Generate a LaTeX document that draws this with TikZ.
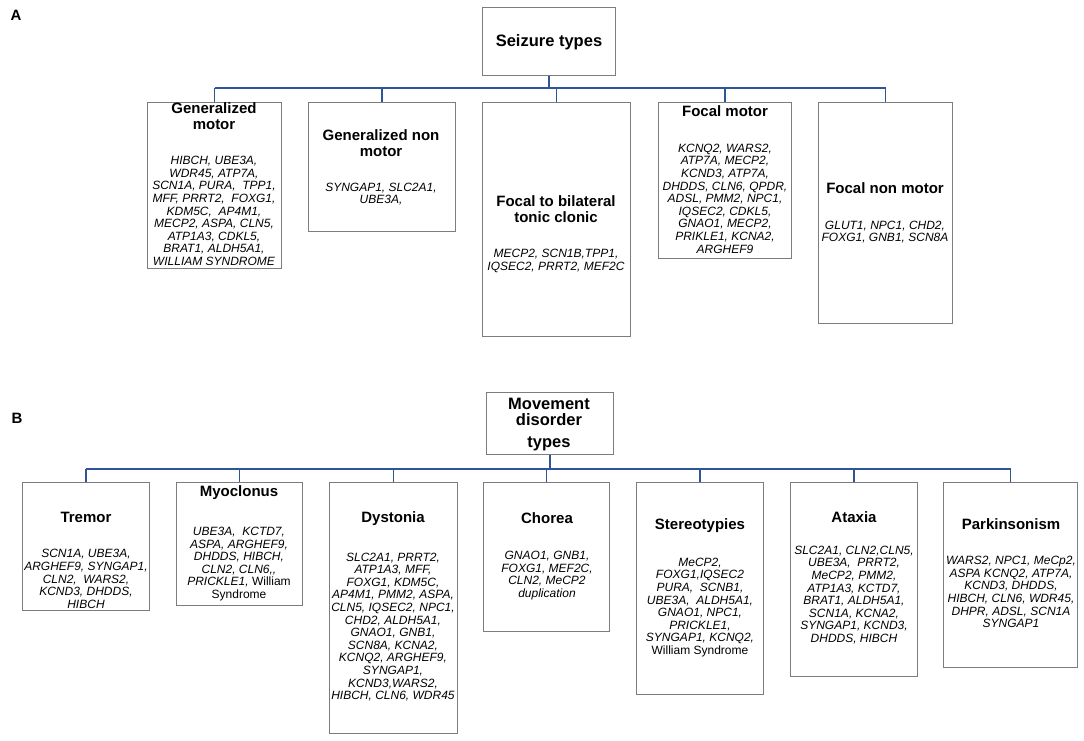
\documentclass[tikz,border=0pt]{standalone}
\usepackage{fontspec}
\setmainfont{Liberation Sans}
\definecolor{connc}{RGB}{47,85,151}
\definecolor{boxc}{RGB}{125,125,125}
\begin{document}
\begin{tikzpicture}[x=1pt,y=-1pt,
  box/.style={draw=boxc, line width=1pt, inner sep=0pt, anchor=north west, fill=white},
  ttl/.style={font=\fontsize{15}{16}\selectfont\bfseries, align=center, inner sep=0pt},
  roottl/.style={font=\fontsize{16.5}{16}\selectfont\bfseries, align=center, inner sep=0pt},
  gene/.style={font=\fontsize{12}{12.6}\selectfont\itshape, align=center, inner sep=0pt},
  conn/.style={draw=connc, line width=1.3pt},
  panel/.style={font=\fontsize{15}{15}\selectfont\bfseries, inner sep=0pt}]
\useasboundingbox (0,0) rectangle (1084,741);
\fill[white] (0,0) rectangle (1084,741);

% ---------- Panel A ----------
\node[panel] (labA) at (16,15) {A};
\node[box, minimum width=133pt, minimum height=68pt] (seiz) at (482,7) {};
\node[roottl] (seizt) at (549,42) {Seizure types};

\node[box, minimum width=134pt, minimum height=166pt] (gm) at (147,102) {};
\node[box, minimum width=147pt, minimum height=129pt] (gnm) at (308,102) {};
\node[box, minimum width=148pt, minimum height=234pt] (fbtc) at (482,102) {};
\node[box, minimum width=133pt, minimum height=156pt] (fm) at (658,102) {};
\node[box, minimum width=134pt, minimum height=221pt] (fnm) at (818,102) {};

\coordinate (busA) at (0,88);
\draw[conn] (seiz.south) -- (seiz.south |- busA);
\draw[conn] (gm.north |- busA) -- (fnm.north |- busA);
\foreach \n in {gm,gnm,fbtc,fm,fnm} {\draw[conn] (\n.north) -- (\n.north |- busA);}

\node[ttl] (gmt) at (214,116) {Generalized\\motor};
\node[gene] (gmg) at (214,211) {HIBCH, UBE3A,\\WDR45, ATP7A,\\SCN1A, PURA,\ \ TPP1,\\MFF, PRRT2,\ \ FOXG1,\\KDM5C,\ \ AP4M1,\\MECP2, ASPA, CLN5,\\ATP1A3, CDKL5,\\BRAT1, ALDH5A1,\\WILLIAM SYNDROME};

\node[ttl] (gnmt) at (381,143) {Generalized non\\motor};
\node[gene] (gnmg) at (381,194) {SYNGAP1, SLC2A1,\\UBE3A,};

\node[ttl] (fbtct) at (556,209) {Focal to bilateral\\tonic clonic};
\node[gene] (fbtcg) at (556,261) {MECP2, SCN1B,TPP1,\\IQSEC2, PRRT2, MEF2C};

\node[ttl] (fmt) at (725,111) {Focal motor};
\node[gene] (fmg) at (725,198.5) {KCNQ2, WARS2,\\ATP7A, MECP2,\\KCND3, ATP7A,\\DHDDS, CLN6, QPDR,\\ADSL, PMM2, NPC1,\\IQSEC2, CDKL5,\\GNAO1, MECP2,\\PRIKLE1, KCNA2,\\ARGHEF9};

\node[ttl] (fnmt) at (885,188) {Focal non motor};
\node[gene] (fnmg) at (885,232) {GLUT1, NPC1, CHD2,\\FOXG1, GNB1, SCN8A};

% ---------- Panel B ----------
\node[panel] (labB) at (17,418) {B};
\node[box, minimum width=127pt, minimum height=62pt] (mov) at (486,392) {};
\node[roottl] (movt) at (549,425) {Movement\\disorder\\[6pt]types};

\node[box, minimum width=127pt, minimum height=128pt] (tre) at (22,482) {};
\node[box, minimum width=126pt, minimum height=123pt] (myo) at (176,482) {};
\node[box, minimum width=128pt, minimum height=251pt] (dys) at (329,482) {};
\node[box, minimum width=126pt, minimum height=149pt] (cho) at (483,482) {};
\node[box, minimum width=127pt, minimum height=212pt] (ste) at (636,482) {};
\node[box, minimum width=127pt, minimum height=194pt] (ata) at (790,482) {};
\node[box, minimum width=134pt, minimum height=185pt] (par) at (943,482) {};

\coordinate (busB) at (0,469);
\draw[conn] (mov.south) -- (mov.south |- busB);
\draw[conn] (tre.north |- busB) -- (par.north |- busB);
\foreach \n in {tre,myo,dys,cho,ste,ata,par} {\draw[conn] (\n.north) -- (\n.north |- busB);}

\node[ttl] (tret) at (86,517) {Tremor};
\node[gene] (treg) at (86,579) {SCN1A, UBE3A,\\ARGHEF9, SYNGAP1,\\CLN2,\ \ WARS2,\\KCND3, DHDDS,\\HIBCH};

\node[ttl] (myot) at (239,493) {Myoclonus};
\node[gene] (myog) at (239,564) {UBE3A,\ \ KCTD7,\\ASPA, ARGHEF9,\\DHDDS, HIBCH,\\CLN2, CLN6,{},\\PRICKLE1, {\upshape William}\\{\upshape Syndrome}};

\node[ttl] (dyst) at (393,519) {Dystonia};
\node[gene] (dysg) at (393,627) {SLC2A1, PRRT2,\\ATP1A3, MFF,\\FOXG1, KDM5C,\\AP4M1, PMM2, ASPA,\\CLN5, IQSEC2, NPC1,\\CHD2, ALDH5A1,\\GNAO1, GNB1,\\SCN8A, KCNA2,\\KCNQ2, ARGHEF9,\\SYNGAP1,\\KCND3,WARS2,\\HIBCH, CLN6, WDR45};

\node[ttl] (chot) at (547,518) {Chorea};
\node[gene] (chog) at (547,575.5) {GNAO1, GNB1,\\FOXG1, MEF2C,\\CLN2, MeCP2\\duplication};

\node[ttl] (stet) at (700,526) {Stereotypies};
\node[gene] (steg) at (700,607.5) {MeCP2,\\FOXG1,IQSEC2\\PURA,\ \ SCNB1,\\UBE3A,\ \ ALDH5A1,\\GNAO1, NPC1,\\PRICKLE1,\\SYNGAP1, KCNQ2,\\{\upshape William Syndrome}};

\node[ttl] (atat) at (854,517) {Ataxia};
\node[gene] (atag) at (854,595) {SLC2A1, CLN2,CLN5,\\UBE3A,\ \ PRRT2,\\MeCP2, PMM2,\\ATP1A3, KCTD7,\\BRAT1, ALDH5A1,\\SCN1A, KCNA2,\\SYNGAP1, KCND3,\\DHDDS, HIBCH};

\node[ttl] (part) at (1011,524) {Parkinsonism};
\node[gene] (parg) at (1011,592) {WARS2, NPC1, MeCp2,\\ASPA KCNQ2, ATP7A,\\KCND3, DHDDS,\\HIBCH, CLN6, WDR45,\\DHPR, ADSL, SCN1A\\SYNGAP1};
\end{tikzpicture}
\end{document}
